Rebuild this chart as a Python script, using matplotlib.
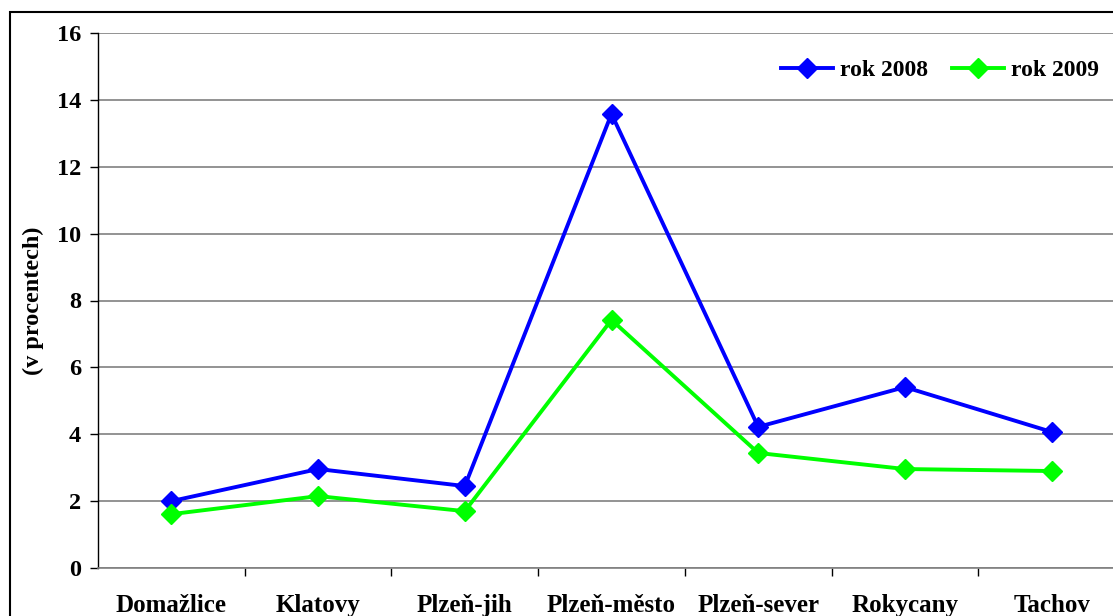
import matplotlib
matplotlib.use("Agg")
import matplotlib.pyplot as plt
from matplotlib.patches import Rectangle
import numpy as np

categories = ["Domažlice", "Klatovy", "Plzeň-jih", "Plzeň-město", "Plzeň-sever", "Rokycany", "Tachov"]
rok_2008 = [2.0, 2.96, 2.45, 13.58, 4.22, 5.41, 4.07]
rok_2009 = [1.61, 2.15, 1.70, 7.42, 3.44, 2.96, 2.90]
y_ticks = [0, 2, 4, 6, 8, 10, 12, 14, 16]

plt.rcParams['font.family'] = ['Liberation Serif', 'DejaVu Serif']
plt.rcParams['font.weight'] = 'bold'

fig = plt.figure(figsize=(11.13, 6.16), dpi=100)
ax = fig.add_axes([98/1113, 1-568/616, (1125-98)/1113, (568-33)/616])

x = np.arange(len(categories))
ax.plot(x, rok_2008, color='#0000ff', lw=2.8, marker='D', ms=10, label='rok 2008', zorder=3)
ax.plot(x, rok_2009, color='#00ff00', lw=2.8, marker='D', ms=10, label='rok 2009', zorder=3)

ax.set_xlim(-0.5, len(categories)-0.5)
ax.set_ylim(0, 16)
ax.set_yticks(y_ticks)
ax.set_yticklabels([str(t) for t in y_ticks], fontsize=17.5, fontweight='bold')
ax.yaxis.grid(True, color='#808080', lw=1.2)
ax.set_axisbelow(True)

ax.set_xticks(x)
ax.set_xticklabels(categories, fontsize=18, fontweight='bold')
ax.tick_params(axis='x', which='major', length=0, pad=19)
ax.set_xticks(np.arange(0.5, len(categories)-0.5, 1.0), minor=True)
ax.tick_params(axis='x', which='minor', length=6, width=1, direction='out', color='black')
ax.tick_params(axis='y', length=6, width=1, direction='out', pad=6)

for s in ['top', 'right']:
    ax.spines[s].set_visible(False)
ax.spines['bottom'].set_color('#808080')
ax.spines['bottom'].set_linewidth(1.2)
ax.spines['left'].set_color('black')
ax.spines['left'].set_linewidth(1)

ax.set_ylabel('(v procentech)', fontsize=17.5, fontweight='bold', labelpad=9)

ax.legend(loc='upper right', bbox_to_anchor=((1120-98)/(1125-98), (568-38)/(568-33)),
          ncol=2, frameon=False, handlelength=2.2, columnspacing=1.0,
          handletextpad=0.3, prop={'weight': 'bold', 'size': 17})

fig.patches.append(Rectangle((10/1113, -0.1), 1.2, 1-12/616+0.1, transform=fig.transFigure,
                             fill=False, lw=1.5, edgecolor='black'))

fig.savefig('out.png', dpi=100)
